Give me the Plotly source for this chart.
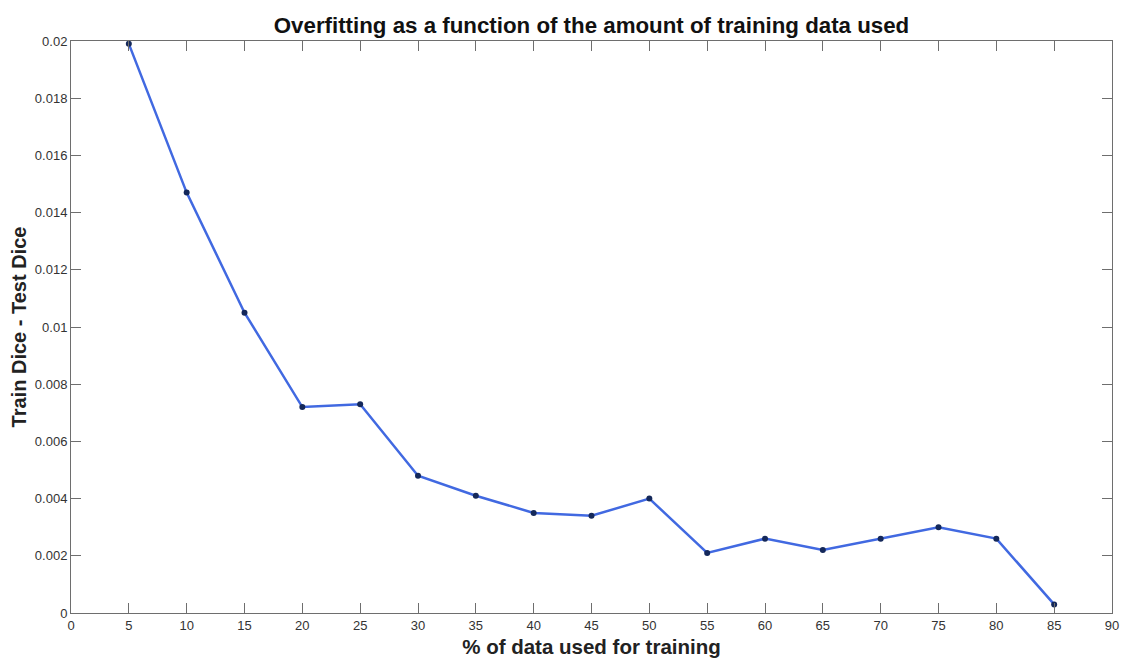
import plotly.graph_objects as go

pct_train = [5, 10, 15, 20, 25, 30, 35, 40, 45, 50, 55, 60, 65, 70, 75, 80, 85]
dice_gap = [0.0199, 0.0147, 0.0105, 0.0072, 0.0073, 0.0048, 0.0041, 0.0035, 0.0034,
            0.0040, 0.0021, 0.0026, 0.0022, 0.0026, 0.0030, 0.0026, 0.0003]

x_ticks = list(range(0, 95, 5))
y_ticks = [0, 0.002, 0.004, 0.006, 0.008, 0.01, 0.012, 0.014, 0.016, 0.018, 0.02]
y_tick_text = ["0", "0.002", "0.004", "0.006", "0.008", "0.01", "0.012", "0.014",
               "0.016", "0.018", "0.02"]

FONT = "Liberation Sans, Arial, sans-serif"

fig = go.Figure()
fig.add_trace(go.Scatter(
    x=pct_train, y=dice_gap, mode="lines+markers",
    line=dict(color="#4169E1", width=2.5),
    marker=dict(color="#14285a", size=6),
    cliponaxis=False, showlegend=False,
))

axis_common = dict(
    showline=True, linecolor="#6e6e6e", linewidth=1, mirror="ticks",
    ticks="inside", ticklen=10, tickcolor="#6e6e6e", tickwidth=1,
    showgrid=False, zeroline=False, automargin=False,
    tickfont=dict(family=FONT, size=13, color="#333333"),
)

W, H = 1121, 659
fig.update_layout(
    width=W, height=H,
    margin=dict(l=71, r=9, t=41, b=46),
    paper_bgcolor="white", plot_bgcolor="white",
    title=dict(text="<b>Overfitting as a function of the amount of training data used</b>",
               xref="paper", x=0.5, xanchor="center", yref="container", y=1 - 25 / H,
               yanchor="middle",
               font=dict(family=FONT, size=22.3, color="#111111")),
    xaxis=dict(range=[0, 90], tickvals=x_ticks, ticktext=[str(v) for v in x_ticks],
               title=dict(text="<b>% of data used for training</b>", standoff=8,
                          font=dict(family=FONT, size=20.5, color="#222222")),
               **axis_common),
    yaxis=dict(range=[0, 0.02], tickvals=y_ticks, ticktext=y_tick_text,
               title=dict(text="<b>Train Dice - Test Dice</b>", standoff=2,
                          font=dict(family=FONT, size=20, color="#222222")),
               **axis_common),
)

fig.write_html(
    "out.html",
    config={"displayModeBar": False},
    post_script="document.body.style.margin='0';document.body.style.overflow='hidden';",
)
